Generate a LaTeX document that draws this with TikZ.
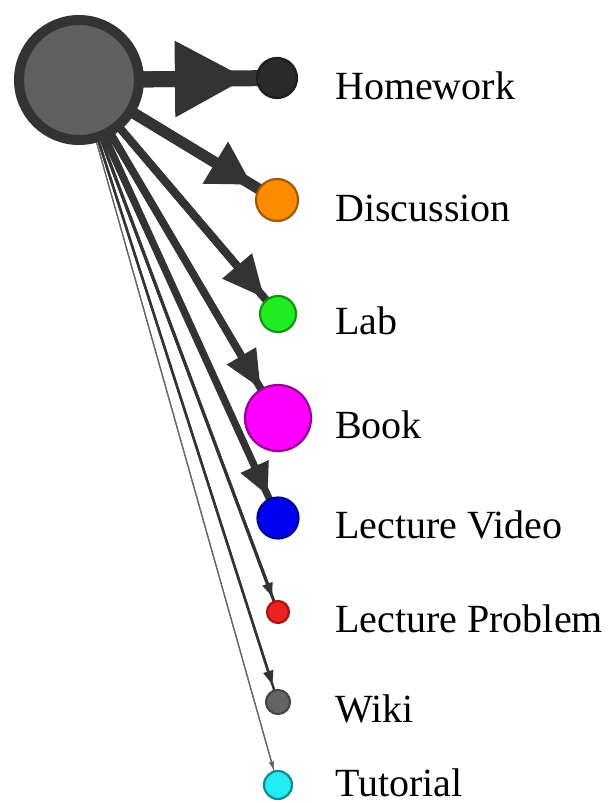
\documentclass[tikz,border=0pt]{standalone}
\usepackage{fontspec}
\setmainfont{Liberation Serif}
\usetikzlibrary{arrows.meta,backgrounds}
\definecolor{edgec}{HTML}{333333}
\begin{document}
\begin{tikzpicture}[x=1pt,y=-1pt,
  nd/.style={circle,inner sep=0pt,line width=2.2pt},
  lbl/.style={anchor=base west,inner sep=0pt,font=\fontsize{40}{48}\selectfont},
  edge/.style={draw=edgec,line cap=butt}]
\useasboundingbox (0,0) rectangle (612,803);
\node[nd,fill={rgb,255:red,96;green,96;blue,96},draw=edgec,line width=10pt,minimum size=120pt] (big) at (79,80) {};
\node[nd,fill={rgb,255:red,42;green,42;blue,42},draw={rgb,255:red,30;green,30;blue,30},minimum size=40pt] (hw) at (277,78) {};
\node[nd,fill={rgb,255:red,255;green,140;blue,0},draw={rgb,255:red,160;green,90;blue,0},minimum size=42pt] (disc) at (277,200) {};
\node[nd,fill={rgb,255:red,34;green,236;blue,34},draw={rgb,255:red,17;green,150;blue,17},minimum size=36pt] (lab) at (278,314) {};
\node[nd,fill={rgb,255:red,255;green,0;blue,255},draw={rgb,255:red,150;green,0;blue,150},minimum size=66pt] (book) at (278,418) {};
\node[nd,fill={rgb,255:red,0;green,0;blue,240},draw={rgb,255:red,0;green,0;blue,140},minimum size=41pt] (vid) at (278,518) {};
\node[nd,fill={rgb,255:red,236;green,34;blue,34},draw={rgb,255:red,170;green,20;blue,20},minimum size=22pt] (prob) at (278,612) {};
\node[nd,fill={rgb,255:red,100;green,100;blue,100},draw={rgb,255:red,70;green,70;blue,70},minimum size=24pt] (wiki) at (278,702) {};
\node[nd,fill={rgb,255:red,34;green,236;blue,240},draw={rgb,255:red,17;green,140;blue,140},minimum size=28pt] (tut) at (278,785) {};
\begin{pgfonlayer}{background}
\draw[edge,line width=16pt] (big.center) -- (hw.center);
\draw[edge,line width=16pt,-{Triangle[length=72pt,width=72pt]},shorten >=9pt] (big.center) -- (hw);
\draw[edge,line width=11pt] (big.center) -- (disc.center);
\draw[edge,line width=11pt,-{Triangle[length=43pt,width=46pt]},shorten >=7pt] (big.center) -- (disc);
\draw[edge,line width=8pt] (big.center) -- (lab.center);
\draw[edge,line width=8pt,-{Triangle[length=42pt,width=37pt]},shorten >=2pt] (big.center) -- (lab);
\draw[edge,line width=7.5pt] (big.center) -- (book.center);
\draw[edge,line width=7.5pt,-{Triangle[length=38pt,width=32pt]},shorten >=0pt] (big.center) -- (book);
\draw[edge,line width=7pt] (big.center) -- (vid.center);
\draw[edge,line width=7pt,-{Triangle[length=32pt,width=29pt]},shorten >=3pt] (big.center) -- (vid);
\draw[edge,line width=3pt] (big.center) -- (prob.center);
\draw[edge,line width=3pt,-{Triangle[length=14pt,width=10pt]},shorten >=4pt] (big.center) -- (prob);
\draw[edge,line width=2.4pt] (big.center) -- (wiki.center);
\draw[edge,line width=2.4pt,-{Triangle[length=14pt,width=10pt]},shorten >=5pt] (big.center) -- (wiki);
\draw[edge,draw=gray!80!black,line width=1.2pt] (big.center) -- (tut.center);
\draw[edge,draw=gray!80!black,line width=1.2pt,-{Triangle[length=8pt,width=5pt]},shorten >=1pt] (big.center) -- (tut);
\end{pgfonlayer}
\node[lbl] (lhw) at (335,99) {Homework};
\node[lbl] (ldisc) at (335,221) {Discussion};
\node[lbl] (llab) at (335,334) {Lab};
\node[lbl] (lbook) at (335,438) {Book};
\node[lbl] (lvid) at (335,538) {Lecture Video};
\node[lbl] (lprob) at (335,632) {Lecture Problem};
\node[lbl] (lwiki) at (335,722) {Wiki};
\node[lbl] (ltut) at (335,796) {Tutorial};
\end{tikzpicture}
\end{document}
